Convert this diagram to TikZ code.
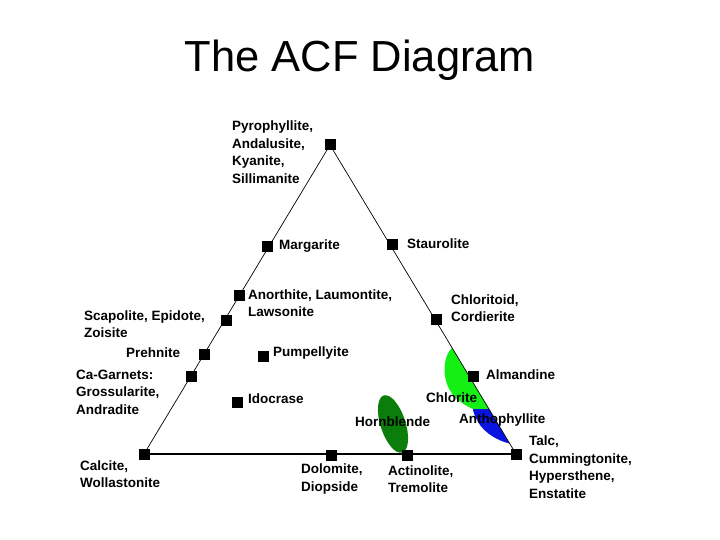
\documentclass[tikz,border=0pt]{standalone}
\usepackage{fontspec}
\setmainfont{Liberation Sans}
\definecolor{chlgreen}{RGB}{20,240,20}
\definecolor{anthblue}{RGB}{10,20,225}
\definecolor{hblgreen}{RGB}{10,125,10}
\begin{document}
\begin{tikzpicture}[x=1pt,y=-1pt,
  mk/.style={rectangle,fill=black,minimum size=11pt,inner sep=0pt},
  lb/.style={anchor=west,font=\bfseries\fontsize{13.5}{17.5}\selectfont,inner sep=0pt,align=left},
  side/.style={draw=black,line width=0.7pt}]
\useasboundingbox[fill=white] (0,0) rectangle (720,540);
% title
\node[font=\fontsize{43.5}{50}\selectfont,inner sep=0pt] (title) at (360,60) {The ACF Diagram};
% coloured fields
\fill[chlgreen] (452.2,348) -- (489,409) -- (473,409) .. controls (455,401) and (446,390) .. (444.5,372) .. controls (444,360) and (448,351) .. cycle;
\fill[anthblue] (473,409) -- (489,409) -- (509.4,443.5) .. controls (499,441) and (485,434) .. (478,422) .. controls (475,416) and (473,412) .. cycle;
\fill[hblgreen, rotate around={18:(393,424)}] (393,424) ellipse [x radius=12.5, y radius=30];
% markers
\node[mk] (top) at (330,145) {};
\node[mk] (calc) at (144,454) {};
\node[mk] (talc) at (516,454) {};
\node[mk] (marg) at (267,246) {};
\node[mk] (staur) at (392,244) {};
\node[mk] (anor) at (239,295) {};
\node[mk] (scap) at (226,320) {};
\node[mk] (chltd) at (436,319) {};
\node[mk] (preh) at (204,354) {};
\node[mk] (pump) at (263,356) {};
\node[mk] (cagar) at (191,376) {};
\node[mk] (alm) at (473,376) {};
\node[mk] (ido) at (237,402) {};
\node[mk] (dolo) at (331,455) {};
\node[mk] (actin) at (407,455) {};
% triangle
\draw[side] (top.center) -- (calc.center);
\draw[side] (top.center) -- (talc.center);
\draw[side,line width=1.2pt] (calc.center) -- (talc.center);
% labels
\node[lb] (tpyro) at (232,152) {Pyrophyllite,\\Andalusite,\\Kyanite,\\Sillimanite};
\node[lb] (tmarg) at (279,246) {Margarite};
\node[lb] (tstaur) at (407,244) {Staurolite};
\node[lb] (tanor) at (248,303) {Anorthite, Laumontite,\\Lawsonite};
\node[lb] (tscap) at (84,324) {Scapolite, Epidote,\\Zoisite};
\node[lb] (tchltd) at (451,308) {Chloritoid,\\Cordierite};
\node[lb] (tpreh) at (126,353) {Prehnite};
\node[lb] (tpump) at (273,353) {Pumpellyite};
\node[lb] (tcagar) at (76,392) {Ca-Garnets:\\Grossularite,\\Andradite};
\node[lb] (talm) at (486,375) {Almandine};
\node[lb] (tido) at (248,399) {Idocrase};
\node[lb] (tchl) at (426,398) {Chlorite};
\node[lb] (thbl) at (355,422) {Hornblende};
\node[lb] (tanth) at (459,420) {Anthophyllite};
\node[lb] (tcalc) at (80,474) {Calcite,\\Wollastonite};
\node[lb] (tdolo) at (301,479) {Dolomite,\\Diopside};
\node[lb] (tactin) at (388,479) {Actinolite,\\Tremolite};
\node[lb] (ttalc) at (529,467) {Talc,\\Cummingtonite,\\Hypersthene,\\Enstatite};
\end{tikzpicture}
\end{document}
